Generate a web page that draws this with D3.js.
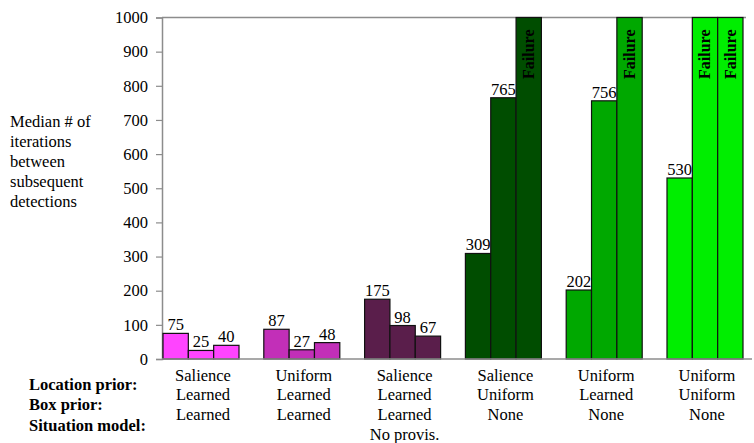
<!DOCTYPE html>
<html>
<head>
<meta charset="utf-8">
<script src="https://cdn.jsdelivr.net/npm/d3@7"></script>
<style>
  body { margin: 0; background: #fff; }
  svg text { font-family: "Liberation Serif", "Times New Roman", serif; }
</style>
</head>
<body>
<div id="chart"></div>
<script>
// data
var locationPrior = ["Salience", "Uniform", "Salience", "Salience", "Uniform", "Uniform"];
var boxPrior = ["Learned", "Learned", "Learned", "Uniform", "Learned", "Uniform"];
var situationModel = ["Learned", "Learned", "Learned", "None", "None", "None"];
var extraNote = ["", "", "No provis.", "", "", ""];
// null means the run failed (drawn as a full bar marked "Failure")
var medianIterations = [
  [75, 25, 40],
  [87, 27, 48],
  [175, 98, 67],
  [309, 765, null],
  [202, 756, null],
  [530, null, null]
];
var groupColors = ["#ff44ff", "#c22fb8", "#5a1e4b", "#004d00", "#00a800", "#00ee00"];
var yTicks = [0, 100, 200, 300, 400, 500, 600, 700, 800, 900, 1000];
var rowNames = ["Location prior:", "Box prior:", "Situation model:"];
var yTitle = ["Median # of", "iterations", "between", "subsequent", "detections"];

var W = 754, H = 443;
var yMax = 1000;
var serif = "'Liberation Serif', 'Times New Roman', serif";

var svg = d3.select("#chart").append("svg")
    .attr("width", W).attr("height", H)
    .style("display", "block");

var x0 = d3.scaleBand()
    .domain(d3.range(medianIterations.length))
    .range([163, 743])
    .paddingInner(0.246)
    .paddingOuter(0);
var x1 = d3.scaleBand()
    .domain([0, 1, 2])
    .range([0, x0.bandwidth()]);
var y = d3.scaleLinear().domain([0, yMax]).range([359, 17.5]);

// frame lines
svg.append("line")
    .attr("x1", 162).attr("x2", 746)
    .attr("y1", y(yMax)).attr("y2", y(yMax))
    .attr("stroke", "#8c8c8c").attr("stroke-width", 1.5);

var yAxis = svg.append("g")
    .attr("transform", "translate(162,0)")
    .call(d3.axisLeft(y).tickValues(yTicks).tickSize(6).tickPadding(8).tickFormat(d3.format("d")));
yAxis.attr("font-family", serif).attr("font-size", 16.5);
yAxis.select(".domain").attr("stroke", "#8c8c8c").attr("stroke-width", 1.5);
yAxis.selectAll(".tick line").attr("stroke", "#8c8c8c").attr("stroke-width", 1.2);
yAxis.selectAll(".tick text")
    .attr("fill", "#000")
    .style("font-size", "16.5px")
    .style("font-family", serif);

// bars
var group = svg.selectAll("g.group")
    .data(medianIterations)
  .enter().append("g")
    .attr("class", "group")
    .attr("transform", function(d, i) { return "translate(" + x0(i) + ",0)"; });

var bar = group.selectAll("g.bar")
    .data(function(d, i) {
      return d.map(function(v, j) { return {g: i, j: j, v: v}; });
    })
  .enter().append("g")
    .attr("class", "bar");

bar.append("rect")
    .attr("x", function(d) { return x1(d.j); })
    .attr("width", x1.bandwidth())
    .attr("y", function(d) { return y(d.v === null ? yMax : d.v); })
    .attr("height", function(d) { return y(0) - y(d.v === null ? yMax : d.v); })
    .attr("fill", function(d) { return groupColors[d.g]; })
    .attr("stroke", "#111")
    .attr("stroke-width", 1.2);

bar.filter(function(d) { return d.v !== null; })
  .append("text")
    .attr("x", function(d) { return x1(d.j) + x1.bandwidth() / 2; })
    .attr("y", function(d) { return y(d.v) - 3; })
    .attr("text-anchor", "middle")
    .style("font-family", serif)
    .style("font-size", "16.5px")
    .text(function(d) { return d.v; });

bar.filter(function(d) { return d.v === null; })
  .append("text")
    .attr("transform", function(d) {
      return "translate(" + (x1(d.j) + x1.bandwidth() / 2 + 5.5) + "," + (y(yMax) + 12) + ") rotate(-90)";
    })
    .attr("text-anchor", "end")
    .style("font-family", serif)
    .style("font-size", "16px")
    .style("font-weight", "bold")
    .text("Failure");

// baseline
svg.append("line")
    .attr("x1", 162).attr("x2", 752)
    .attr("y1", y(0)).attr("y2", y(0))
    .attr("stroke", "#8c8c8c").attr("stroke-width", 1.5);

// y title
svg.append("g").selectAll("text")
    .data(yTitle)
  .enter().append("text")
    .attr("x", 10)
    .attr("y", function(d, i) { return 121 + i * 20; })
    .attr("dy", "0.35em")
    .style("font-family", serif)
    .style("font-size", "16.5px")
    .text(function(d) { return d; });

// row labels
svg.append("g").selectAll("text")
    .data(rowNames)
  .enter().append("text")
    .attr("x", 29)
    .attr("y", function(d, i) { return 384 + i * 20.5; })
    .attr("dy", "0.35em")
    .style("font-family", serif)
    .style("font-size", "16.5px")
    .style("font-weight", "bold")
    .text(function(d) { return d; });

// group condition labels
var rows = [locationPrior, boxPrior, situationModel, extraNote];
rows.forEach(function(row, r) {
  svg.append("g").selectAll("text")
      .data(row)
    .enter().append("text")
      .attr("x", function(d, i) { return x0(i) + x0.bandwidth() / 2 + 2; })
      .attr("y", 375 + r * 19.6)
      .attr("dy", "0.35em")
      .attr("text-anchor", "middle")
      .style("font-family", serif)
      .style("font-size", "16.5px")
      .text(function(d) { return d; });
});
</script>
</body>
</html>
